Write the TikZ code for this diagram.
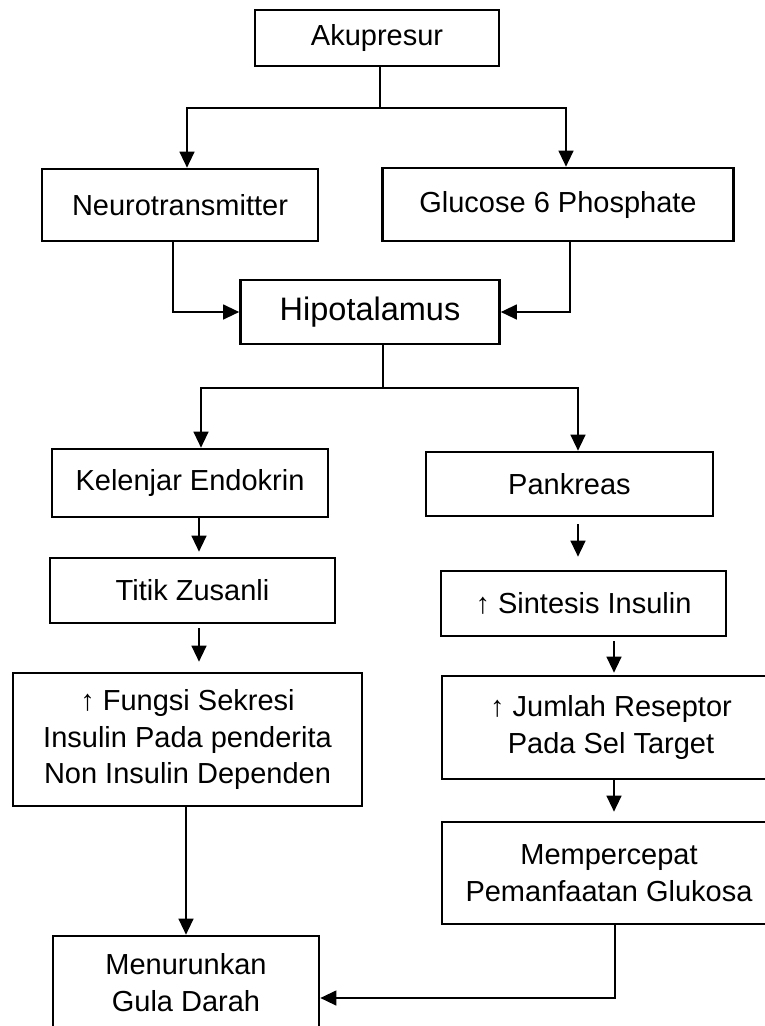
\documentclass[tikz,border=0pt]{standalone}
\usepackage{fontspec}
\setmainfont{Liberation Sans}
\usetikzlibrary{arrows.meta}

\tikzset{
  box/.style={draw, line width=2.7pt, align=center, inner sep=0pt,
    font=\fontsize{29}{36.7}\selectfont},
  link/.style={line width=1.3pt},
  arr/.style={line width=1.3pt, -{Triangle[length=16pt,width=15pt]}},
}

\begin{document}
\begin{tikzpicture}[x=1pt, y=-1pt]
\useasboundingbox (0,0) rectangle (764,1026);

% Boxes
\node[box, minimum width=244pt, minimum height=56pt] (aku) at (377,38) {Akupresur};
\node[box, minimum width=276pt, minimum height=72pt] (neuro) at (180,205) {Neurotransmitter};
\node[box, minimum width=351pt, minimum height=73pt] (gluc) at (558,204.5) {Glucose 6 Phosphate};
\node[box, minimum width=259pt, minimum height=64pt, font=\fontsize{32.5}{40}\selectfont] (hipo) at (370,312) {Hipotalamus};

\node[box, minimum width=276pt, minimum height=68pt] (kel) at (190,483) {Kelenjar Endokrin};
\node[box, minimum width=285pt, minimum height=65pt] (titik) at (192.5,590.5) {Titik Zusanli};
\node[box, minimum width=349pt, minimum height=133pt] (fungsi) at (187.5,739.5)
  {↑ Fungsi Sekresi\\Insulin Pada penderita\\Non Insulin Dependen};
\node[box, minimum width=266pt, minimum height=93pt, font=\fontsize{29}{37}\selectfont] (menur) at (186,982.5)
  {Menurunkan\\Gula Darah};

\node[box, minimum width=287pt, minimum height=64pt] (pank) at (569.5,484) {Pankreas};
\node[box, minimum width=285pt, minimum height=65pt] (sint) at (583.5,603.5) {↑ Sintesis Insulin};
\node[box, minimum width=338pt, minimum height=103pt] (jum) at (611,727.5)
  {↑ Jumlah Reseptor\\Pada Sel Target};
\node[box, minimum width=334pt, minimum height=102pt] (memp) at (609,873)
  {Mempercepat\\Pemanfaatan Glukosa};

% Top split
\coordinate (top) at (380,108);
\draw[link] ([xshift=3pt]aku.south) -- (top);
\draw[arr] (top) -| ([xshift=7pt]neuro.north);
\draw[arr] (top) -| ([xshift=8pt]gluc.north);

% Into Hipotalamus
\draw[arr] ([xshift=-7pt]neuro.south) |- (hipo.west);
\draw[arr] ([xshift=12pt]gluc.south) |- (hipo.east);

% Second split
\coordinate (mid) at (383,388);
\draw[link] ([xshift=13pt]hipo.south) -- (mid);
\draw[arr] (mid) -| ([xshift=11pt]kel.north);
\draw[arr] (mid) -| ([xshift=8.5pt]pank.north);

% Left branch
\draw[arr, shorten >=5pt] ([xshift=9pt]kel.south) -- ([xshift=6.5pt]titik.north);
\draw[arr, shorten <=4pt, shorten >=10pt] ([xshift=6.5pt]titik.south) -- ([xshift=11.5pt]fungsi.north);
\draw[arr] ([xshift=-1.5pt]fungsi.south) -- (menur.north);

% Right branch
\draw[arr, shorten <=7pt, shorten >=13pt] ([xshift=8.5pt]pank.south) -- ([xshift=-5.5pt]sint.north);
\draw[arr, shorten <=4pt, shorten >=2pt] ([xshift=30.5pt]sint.south) -- ([xshift=3pt]jum.north);
\draw[arr, shorten >=9pt] ([xshift=3pt]jum.south) -- ([xshift=5pt]memp.north);
\draw[arr] ([xshift=6pt]memp.south) |- ([yshift=-15.5pt]menur.east);

\end{tikzpicture}
\end{document}
